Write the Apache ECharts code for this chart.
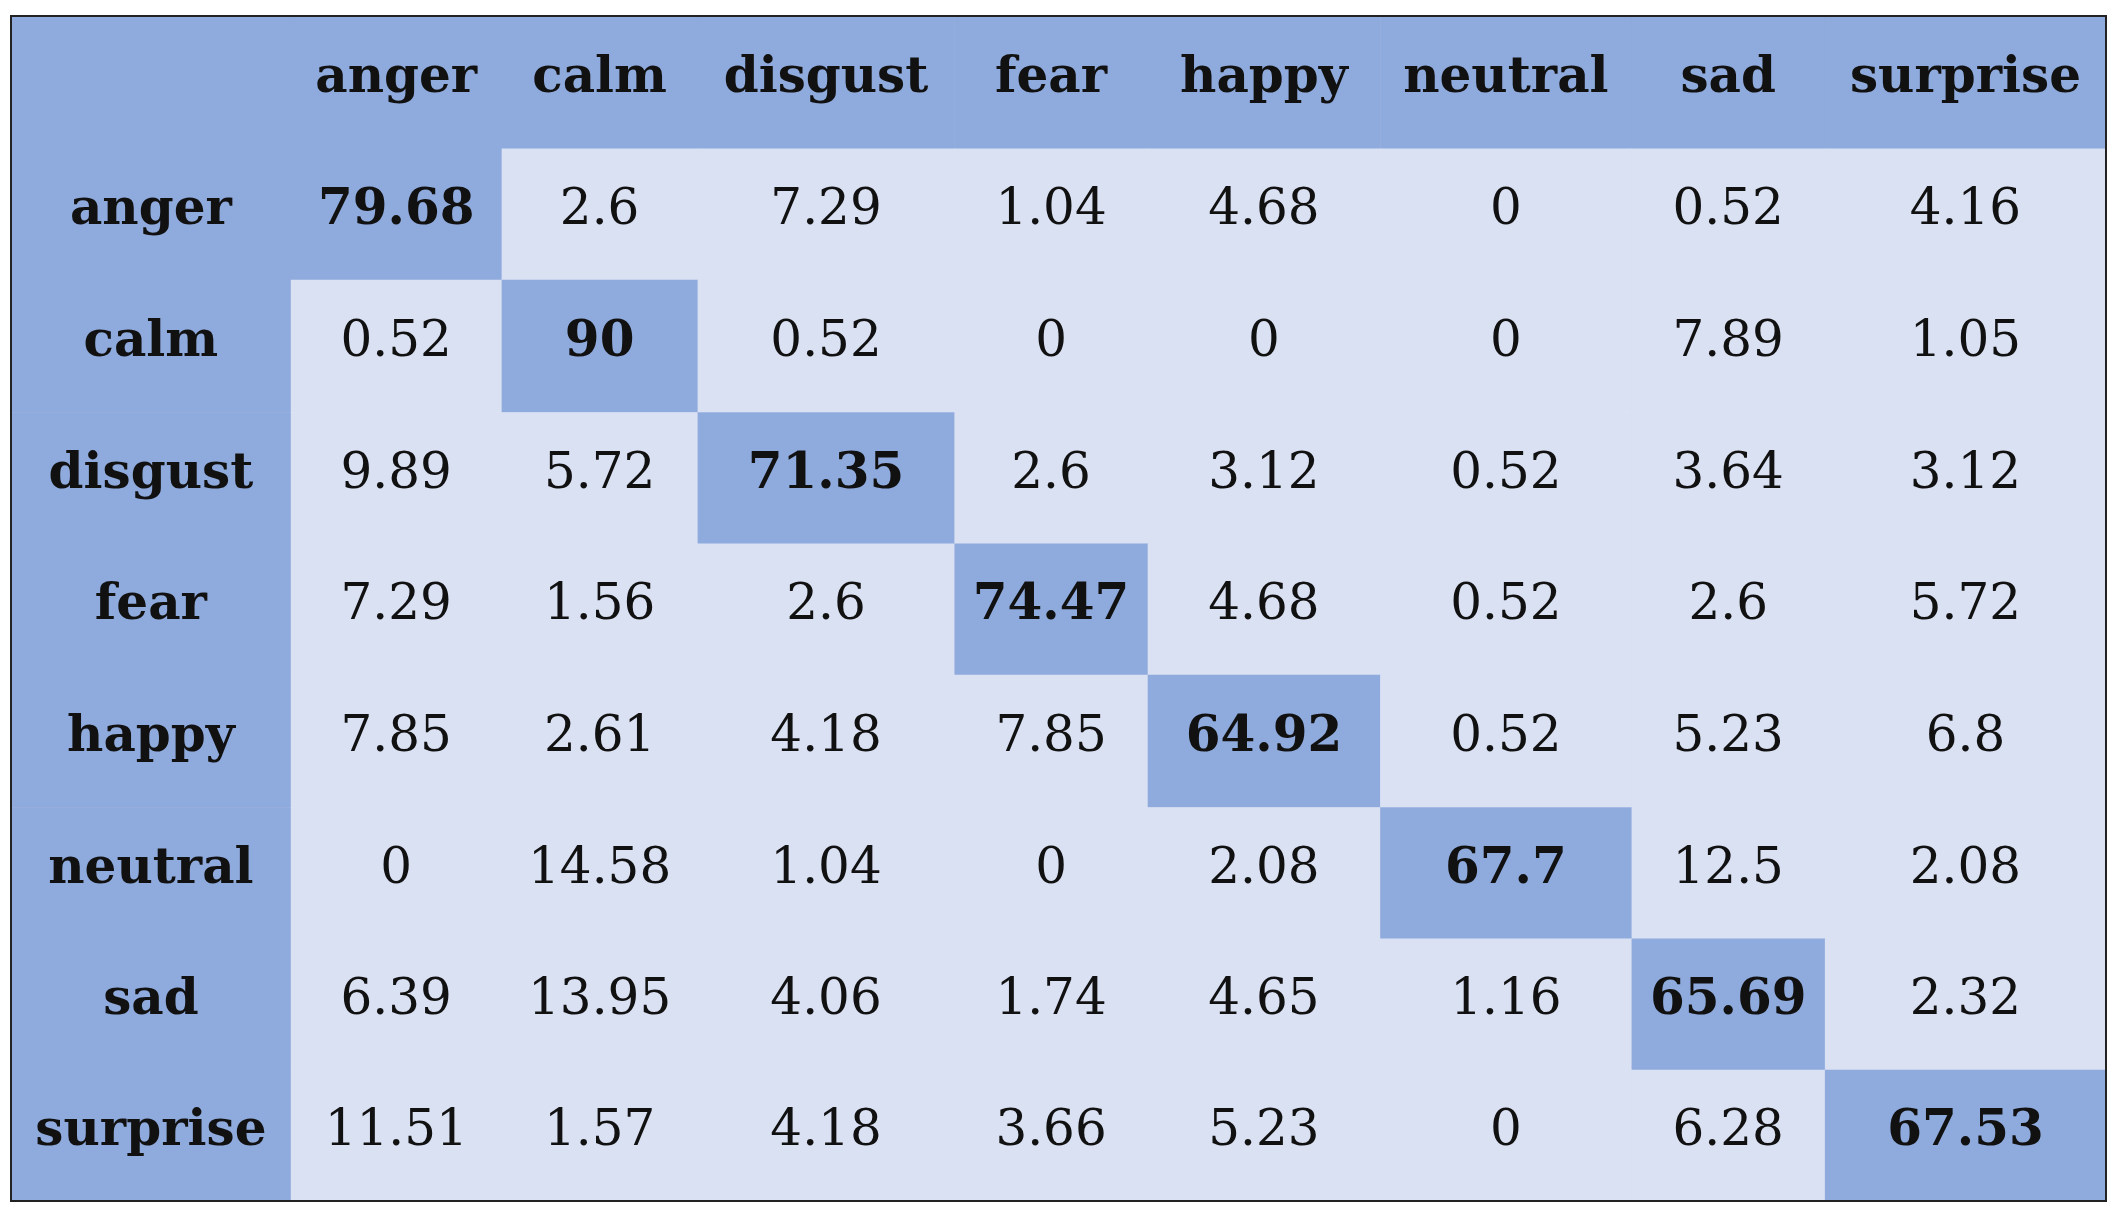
<!DOCTYPE html>
<html><head><meta charset="utf-8">
<script src="https://cdn.jsdelivr.net/npm/echarts@6/dist/echarts.min.js"></script>
<style>html,body{margin:0;padding:0;background:#fff}#c{width:2120px;height:1217px}</style>
</head><body><div id="c"></div>
<script>
const categories = ['anger','calm','disgust','fear','happy','neutral','sad','surprise'];
const row_anger    = [79.68, 2.6, 7.29, 1.04, 4.68, 0, 0.52, 4.16];
const row_calm     = [0.52, 90, 0.52, 0, 0, 0, 7.89, 1.05];
const row_disgust  = [9.89, 5.72, 71.35, 2.6, 3.12, 0.52, 3.64, 3.12];
const row_fear     = [7.29, 1.56, 2.6, 74.47, 4.68, 0.52, 2.6, 5.72];
const row_happy    = [7.85, 2.61, 4.18, 7.85, 64.92, 0.52, 5.23, 6.8];
const row_neutral  = [0, 14.58, 1.04, 0, 2.08, 67.7, 12.5, 2.08];
const row_sad      = [6.39, 13.95, 4.06, 1.74, 4.65, 1.16, 65.69, 2.32];
const row_surprise = [11.51, 1.57, 4.18, 3.66, 5.23, 0, 6.28, 67.53];
const matrix = [row_anger,row_calm,row_disgust,row_fear,row_happy,row_neutral,row_sad,row_surprise];

// layout: cell edges in axis units
const colEdges = [8,215,371,516,706,849,1021,1207,1350,1558];
const rowEdges = [12,110,207,305,402,499,597,694,791,888];
const DARK='#8faadc', LIGHT='#dae1f3';

const data=[];
data.push([0,0,'','h']);
categories.forEach((c,i)=>{data.push([i+1,0,c,'h']);data.push([0,i+1,c,'h']);});
matrix.forEach((r,i)=>r.forEach((v,j)=>data.push([j+1,i+1,String(v),i===j?'d':'v'])));

const chart=echarts.init(document.getElementById('c'));
chart.setOption({
  animation:false,
  grid:{left:11,right:14,top:16,bottom:16,show:true,borderColor:'#222',borderWidth:2,z:10},
  xAxis:{type:'value',min:8,max:1558,show:false},
  yAxis:{type:'value',min:12,max:888,inverse:true,show:false},
  series:[{type:'custom',data:data,
    renderItem:(params,api)=>{
      const ci=api.value(0), ri=api.value(1);
      const d=data[params.dataIndex];
      const p0=api.coord([colEdges[ci],rowEdges[ri]]);
      const p1=api.coord([colEdges[ci+1],rowEdges[ri+1]]);
      const t=d[3];
      const fill=(t==='v')?LIGHT:DARK;
      const bold=(t!=='v');
      return {type:'group',children:[
        {type:'rect',shape:{x:p0[0],y:p0[1],width:p1[0]-p0[0]+0.5,height:p1[1]-p0[1]+0.5},style:{fill:fill}},
        {type:'text',x:(p0[0]+p1[0])/2,y:(p0[1]+p1[1])/2-3,style:{text:d[2],fill:'#111',
          font:(bold?'bold ':'')+'50px "DejaVu Serif", serif',align:'center',verticalAlign:'middle'}}
      ]};
    }}]
});
</script></body></html>
